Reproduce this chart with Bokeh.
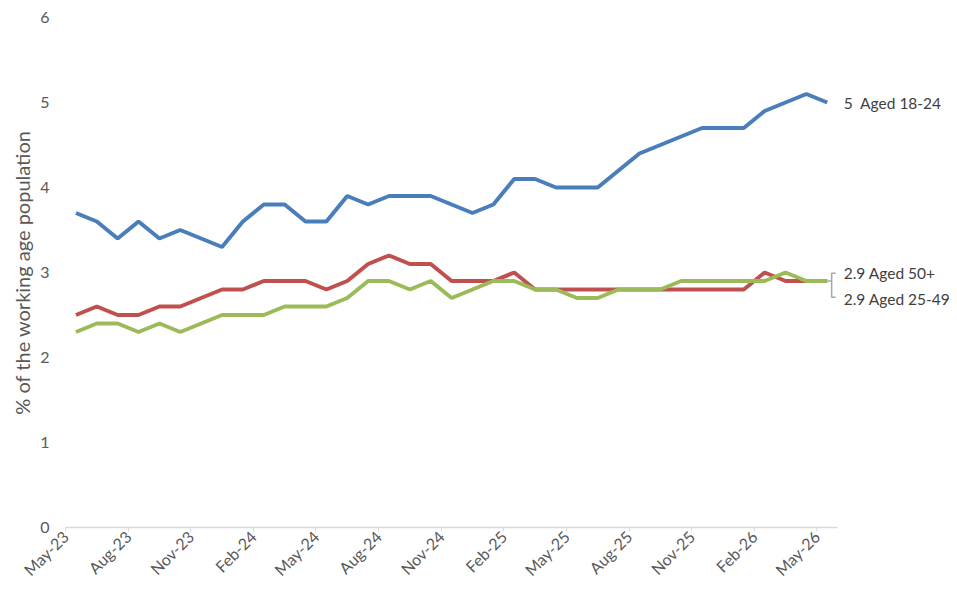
import math
from bokeh.embed import file_html
from bokeh.resources import INLINE
from bokeh.core.properties import value
from bokeh.models import ColumnDataSource, FixedTicker
from bokeh.plotting import figure

# Monthly series, May-23 .. May-26
months = ["May-23", "Jun-23", "Jul-23", "Aug-23", "Sep-23", "Oct-23", "Nov-23", "Dec-23",
          "Jan-24", "Feb-24", "Mar-24", "Apr-24", "May-24", "Jun-24", "Jul-24", "Aug-24",
          "Sep-24", "Oct-24", "Nov-24", "Dec-24", "Jan-25", "Feb-25", "Mar-25", "Apr-25",
          "May-25", "Jun-25", "Jul-25", "Aug-25", "Sep-25", "Oct-25", "Nov-25", "Dec-25",
          "Jan-26", "Feb-26", "Mar-26", "Apr-26", "May-26"]

aged_18_24 = [3.7, 3.6, 3.4, 3.6, 3.4, 3.5, 3.4, 3.3, 3.6, 3.8, 3.8, 3.6, 3.6, 3.9, 3.8, 3.9,
              3.9, 3.9, 3.8, 3.7, 3.8, 4.1, 4.1, 4.0, 4.0, 4.0, 4.2, 4.4, 4.5, 4.6, 4.7, 4.7,
              4.7, 4.9, 5.0, 5.1, 5.0]
aged_50_plus = [2.5, 2.6, 2.5, 2.5, 2.6, 2.6, 2.7, 2.8, 2.8, 2.9, 2.9, 2.9, 2.8, 2.9, 3.1, 3.2,
                3.1, 3.1, 2.9, 2.9, 2.9, 3.0, 2.8, 2.8, 2.8, 2.8, 2.8, 2.8, 2.8, 2.8, 2.8, 2.8,
                2.8, 3.0, 2.9, 2.9, 2.9]
aged_25_49 = [2.3, 2.4, 2.4, 2.3, 2.4, 2.3, 2.4, 2.5, 2.5, 2.5, 2.6, 2.6, 2.6, 2.7, 2.9, 2.9,
              2.8, 2.9, 2.7, 2.8, 2.9, 2.9, 2.8, 2.8, 2.7, 2.7, 2.8, 2.8, 2.8, 2.9, 2.9, 2.9,
              2.9, 2.9, 3.0, 2.9, 2.9]

y_ticks = [0, 1, 2, 3, 4, 5, 6]

FONT = "Lato"
TXT = "#595959"

n = len(months)
# points sit in the middle of each month slot
xs = [i + 0.5 for i in range(n)]
source = ColumnDataSource(dict(x=xs, month=months, a=aged_18_24, b=aged_50_plus, c=aged_25_49))

# x range runs on past the data so the end labels fit inside the frame
p = figure(width=955, height=590, output_backend="svg", toolbar_location=None,
           x_range=(0, 42.5), y_range=(0, 6))
p.min_border_left = 65
p.min_border_right = 3
p.min_border_top = 17
p.min_border_bottom = 63
p.outline_line_color = None
p.xgrid.grid_line_color = None
p.ygrid.grid_line_color = None

p.line("x", "a", source=source, color="#4a7ebb", line_width=4)
p.line("x", "b", source=source, color="#c0504d", line_width=4)
p.line("x", "c", source=source, color="#9bbb59", line_width=4)

# x axis: ticks every quarter at slot boundaries
tick_pos = list(range(0, n, 3))
p.xaxis.bounds = (0, n)
p.xaxis.ticker = FixedTicker(ticks=tick_pos)
p.xaxis.major_label_overrides = {t: months[t] for t in tick_pos}
p.xaxis.major_label_orientation = math.pi / 4
p.xaxis.axis_line_color = "#d9d9d9"
p.xaxis.axis_line_width = 1.5
p.xaxis.major_tick_line_color = "#d9d9d9"
p.xaxis.major_tick_in = 0
p.xaxis.major_tick_out = 4
p.xaxis.minor_tick_line_color = None
p.xaxis.major_label_text_font = FONT
p.xaxis.major_label_text_font_size = "16px"
p.xaxis.major_label_text_color = TXT
p.xaxis.major_label_standoff = 2

# y axis: labels only
p.yaxis.ticker = FixedTicker(ticks=y_ticks)
p.yaxis.axis_line_color = None
p.yaxis.major_tick_line_color = None
p.yaxis.minor_tick_line_color = None
p.yaxis.major_label_text_font = FONT
p.yaxis.major_label_text_font_size = "16px"
p.yaxis.major_label_text_color = TXT
p.yaxis.major_label_standoff = 10
p.yaxis.axis_label = "% of the working age population"
p.yaxis.axis_label_text_font = FONT
p.yaxis.axis_label_text_font_size = "20px"
p.yaxis.axis_label_text_font_style = "normal"
p.yaxis.axis_label_text_color = TXT
p.yaxis.axis_label_standoff = 3

# end labels
lab_x = [n, n, n]
lab_y = [aged_18_24[-1], aged_50_plus[-1] + 0.09, aged_25_49[-1] - 0.21]
lab_t = ["%g\u00a0 Aged 18-24" % aged_18_24[-1],
         "%g Aged 50+" % aged_50_plus[-1],
         "%g Aged 25-49" % aged_25_49[-1]]
p.text(x=lab_x, y=lab_y, text=lab_t, x_offset=6, text_font=value(FONT),
       text_font_size="15.5px", text_color="#404040", text_baseline="middle")

# grey bracket joining the two overlapping end points to their labels
bx0, bx1, bx2 = xs[-1] + 0.02, xs[-1] + 0.21, xs[-1] + 0.4
top, bot = aged_50_plus[-1] + 0.09, aged_25_49[-1] - 0.19
p.multi_line(xs=[[bx0, bx1], [bx2, bx1, bx1, bx2]],
             ys=[[aged_25_49[-1], aged_25_49[-1]], [top, top, bot, bot]],
             line_color="#a6a6a6", line_width=1.5)

open("out.html", "w").write(file_html(p, INLINE))
